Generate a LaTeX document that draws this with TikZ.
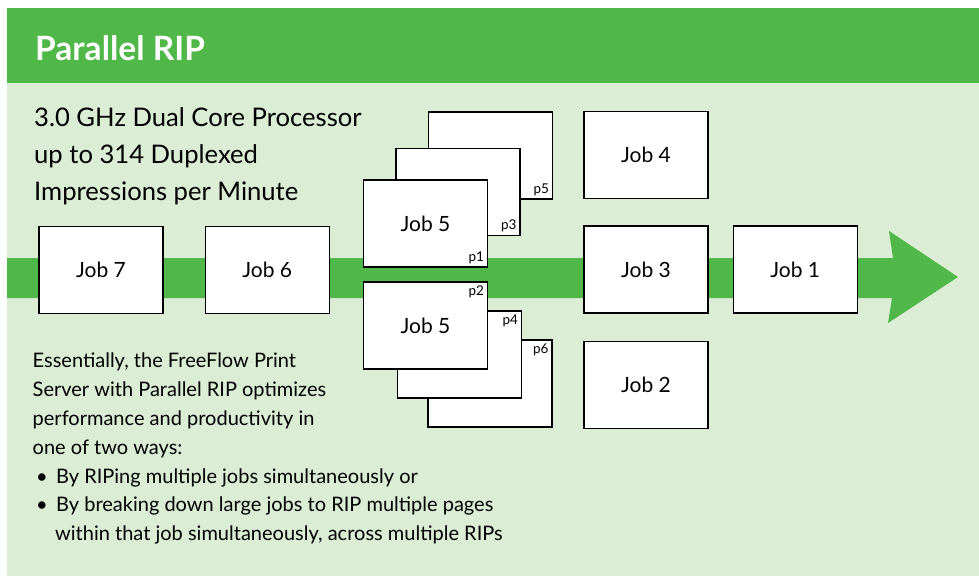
\documentclass[tikz,border=0pt]{standalone}
\usepackage{fontspec}
\setmainfont{Lato}
\usepackage{tikz}
\usetikzlibrary{positioning}
\definecolor{ripgreen}{RGB}{80,184,72}
\definecolor{ripback}{RGB}{220,237,214}
\begin{document}
\begin{tikzpicture}[x=1pt,y=-1pt,
                    job/.style={draw,fill=white,line width=1.2pt,inner sep=0pt,
                                minimum width=124pt,minimum height=87pt,
                                font=\fontsize{21}{24}\selectfont},
                    pagenum/.style={inner sep=4pt,font=\fontsize{13.5}{16}\selectfont}]
 \useasboundingbox (0,0) rectangle (979,576);
 \fill[ripback] (7,8) rectangle (979,576);
 \fill[ripgreen] (7,8) rectangle (979,83);
 \node[anchor=base west,inner sep=0pt,text=white,
       font=\fontsize{33.5}{36}\bfseries] (title) at (35,60) {Parallel RIP};
 \node[anchor=north west,inner sep=0pt,align=left,
       font=\fontsize{25.6}{37}\selectfont] (specs) at (34,107)
      {3.0 GHz Dual Core Processor\\up to 314 Duplexed\\Impressions per Minute};
 \fill[ripgreen] (7,258) -- (893,258) -- (889,231) -- (958,277)
                 -- (888,323) -- (892,298) -- (7,298) -- cycle;
 \node[job] (job7) at (101,270) {Job 7};
 \node[job,right=41pt of job7] (job6) {Job 6};
 \node[job] (p5) at (490.5,155.5) {};
 \node[pagenum,anchor=south east] at (p5.south east) {p5};
 \node[job] (p3) at (458,192) {};
 \node[pagenum,anchor=south east] at (p3.south east) {p3};
 \node[job] (p1) at (425.5,223.5) {Job 5};
 \node[pagenum,anchor=south east] at (p1.south east) {p1};
 \node[job] (p6) at (490,383.5) {};
 \node[pagenum,anchor=north east] at (p6.north east) {p6};
 \node[job] (p4) at (459.5,354.5) {};
 \node[pagenum,anchor=north east] at (p4.north east) {p4};
 \node[job] (p2) at (425.5,325.5) {Job 5};
 \node[pagenum,anchor=north east] at (p2.north east) {p2};
 \node[job] (job3) at (646,269.5) {Job 3};
 \node[job,above=26pt of job3] (job4) {Job 4};
 \node[job,below=27pt of job3] (job2) {Job 2};
 \node[job,right=24pt of job3] (job1) {Job 1};
 \node[anchor=north west,inner sep=0pt,align=left,
       font=\fontsize{20}{28.8}\selectfont] (notes) at (32.5,353)
      {Essentially, the FreeFlow Print\\
       Server with Parallel RIP optimizes\\
       performance and productivity in\\
       one of two ways:\\
       \makebox[23.5pt][l]{\hspace*{3.5pt}\textbullet}By RIPing multiple jobs simultaneously or\\
       \makebox[23.5pt][l]{\hspace*{3.5pt}\textbullet}By breaking down large jobs to RIP multiple pages\\
       \hspace*{22.5pt}within that job simultaneously, across multiple RIPs};
\end{tikzpicture}
\end{document}
